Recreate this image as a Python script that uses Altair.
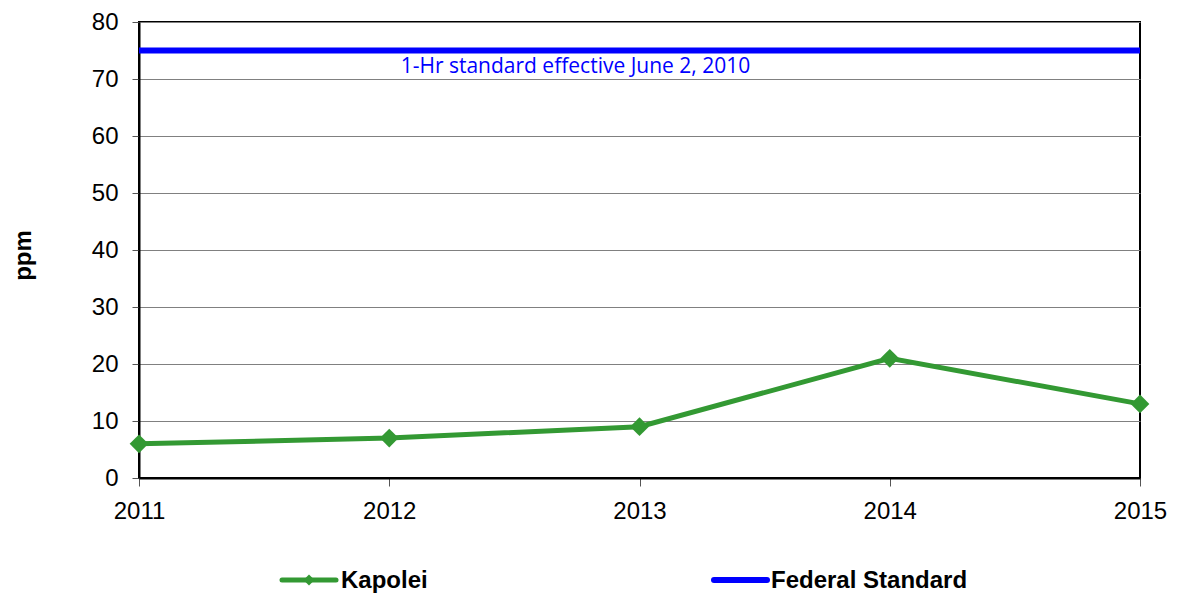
import altair as alt
import pandas as pd

years = [2011, 2012, 2013, 2014, 2015]
kapolei = [6, 7, 9, 21, 13]
federal_standard = 75
series_names = ["Kapolei", "Federal Standard"]
annotation = "1-Hr standard effective June 2, 2010"
y_ticks = [0, 10, 20, 30, 40, 50, 60, 70, 80]

GREEN = "#339933"
BLUE = "#0000FF"
W, H = 1001, 456

df = pd.DataFrame({"year": years, "ppm": kapolei})
std_df = pd.DataFrame({"year": [years[0], years[-1]], "ppm": [federal_standard, federal_standard]})
ann_df = pd.DataFrame({"year": [2012.744], "ppm": [72.1], "label": [annotation]})
one = pd.DataFrame({"a": [0]})

xscale = alt.Scale(domain=[years[0], years[-1]], nice=False, zero=False)
yscale = alt.Scale(domain=[0, 80], nice=False)

xaxis = alt.Axis(values=years, format="d", title=None, grid=False,
                 labelFontSize=24, labelFont="Liberation Sans", labelColor="black",
                 labelFlush=False, labelOverlap=False,
                 tickSize=8, tickColor="#555", labelPadding=13,
                 domainColor="black", domainWidth=2)
yaxis = alt.Axis(values=y_ticks, title="ppm", grid=True, gridColor="#808080", gridWidth=1,
                 labelFontSize=24, labelFont="Liberation Sans", labelColor="black",
                 labelFlush=False, labelOverlap=False,
                 tickSize=7, tickColor="#555", labelPadding=14,
                 domainColor="black", domainWidth=2,
                 titleFontSize=24, titleFont="Liberation Sans", titleFontWeight="bold",
                 titleColor="black", titleX=-116, titleY=233, titleAngle=270,
                 titleAlign="center", titleBaseline="middle")

std = alt.Chart(std_df).mark_line(color=BLUE, strokeWidth=6).encode(
    x=alt.X("year:Q", scale=xscale, axis=xaxis),
    y=alt.Y("ppm:Q", scale=yscale, axis=yaxis),
)

ann = alt.Chart(ann_df).mark_text(color=BLUE, font="Open Sans", fontSize=21,
                                  align="center", baseline="middle").encode(
    x=alt.X("year:Q", scale=xscale), y=alt.Y("ppm:Q", scale=yscale), text="label:N")

line = alt.Chart(df).mark_line(color=GREEN, strokeWidth=5).encode(
    x=alt.X("year:Q", scale=xscale), y=alt.Y("ppm:Q", scale=yscale))
pts = alt.Chart(df).mark_point(shape="diamond", filled=True, color=GREEN, size=350, opacity=1).encode(
    x=alt.X("year:Q", scale=xscale), y=alt.Y("ppm:Q", scale=yscale))

LY = 558
leg_k_line = alt.Chart(one).mark_rule(color=GREEN, strokeWidth=5, strokeCap="round").encode(
    x=alt.value(143), x2=alt.value(197), y=alt.value(LY))
leg_k_pt = alt.Chart(one).mark_point(shape="diamond", filled=True, color=GREEN, size=120, opacity=1).encode(
    x=alt.value(170), y=alt.value(LY))
leg_k_txt = alt.Chart(one).mark_text(text=series_names[0], font="Liberation Sans", fontWeight="bold",
                                     fontSize=24, align="left", baseline="middle", color="black").encode(
    x=alt.value(202), y=alt.value(LY + 1))
leg_f_line = alt.Chart(one).mark_rule(color=BLUE, strokeWidth=6, strokeCap="round").encode(
    x=alt.value(575), x2=alt.value(628), y=alt.value(LY))
leg_f_txt = alt.Chart(one).mark_text(text=series_names[1], font="Liberation Sans", fontWeight="bold",
                                     fontSize=24, align="left", baseline="middle", color="black").encode(
    x=alt.value(632), y=alt.value(LY + 1))

chart = alt.layer(std, ann, line, pts, leg_k_line, leg_k_pt, leg_k_txt, leg_f_line, leg_f_txt).properties(
    width=W, height=H,
    autosize=alt.AutoSizeParams(type="none"),
    padding={"left": 131, "top": 14, "right": 30, "bottom": 118},
).configure_view(stroke="black", strokeWidth=2)

chart.save("out.html", embed_options={"renderer": "svg", "actions": False})
